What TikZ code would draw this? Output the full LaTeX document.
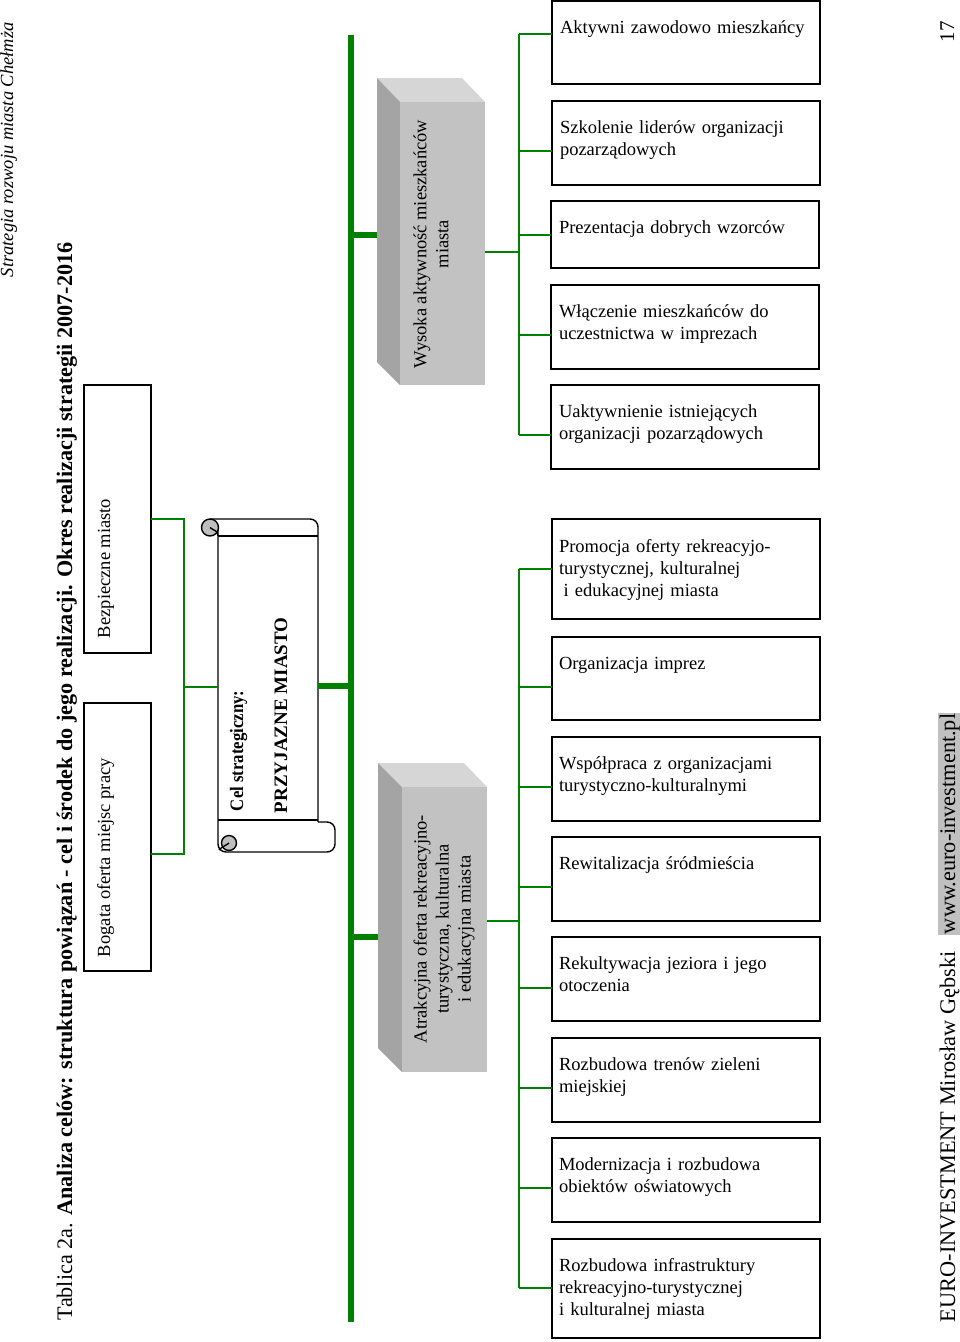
\documentclass[tikz,border=0pt]{standalone}
\usepackage{fontspec}
\setmainfont{Liberation Serif}
\usetikzlibrary{calc}
\definecolor{ln}{RGB}{0,128,0}
\definecolor{grF}{RGB}{194,194,194}
\definecolor{grT}{RGB}{214,214,214}
\definecolor{grS}{RGB}{164,164,164}
\definecolor{grW}{RGB}{192,192,192}
\definecolor{curl}{RGB}{190,190,190}
\newcommand{\bodyfont}{\fontsize{18.5}{22}\selectfont}
\begin{document}
\begin{tikzpicture}[x=1pt,y=-1pt,
  every node/.style={inner sep=0pt, outer sep=0pt},
  rbox/.style={draw=black, line width=1.4pt, anchor=north west, minimum width=268pt, minimum height=#1},
  lbox/.style={draw=black, line width=1.4pt, anchor=north west, minimum width=67pt, minimum height=268pt},
  face/.style={fill=grF, anchor=north west, minimum width=85pt, minimum height=#1},
  btxt/.style={font=\bodyfont, anchor=base west, text width=258pt, align=left},
  rtxt/.style={font=\bodyfont, rotate=90, anchor=base west},
  thinln/.style={draw=ln, line width=2pt},
  thickln/.style={draw=ln, line width=5.5pt},
  sc/.style={draw=black, line width=1.4pt},
]
\useasboundingbox (0,0) rectangle (960,1342);

% ---------- header / footer ----------
\node[rotate=90, anchor=base west, font=\fontsize{18.5}{22}\selectfont\itshape] (hdr) at (13,277) {Strategia rozwoju miasta Chełmża};
\node[rotate=90, anchor=base west, font=\fontsize{22.2}{26}\selectfont] (title) at (72,1320) {Tablica 2a. \textbf{Analiza celów: struktura powiązań - cel i środek do jego realizacji. Okres realizacji strategii 2007-2016}};
\node[rotate=90, anchor=base west, font=\fontsize{21}{25}\selectfont] (pg) at (954,42) {17};
\node[rotate=90, anchor=base west, font=\fontsize{22.3}{26}\selectfont] (ft1) at (955,1322) {EURO-INVESTMENT Mirosław Gębski};
\node[rotate=90, anchor=base west, font=\fontsize{22.3}{26}\selectfont, fill=grW, inner xsep=1pt, inner ysep=2pt] (ft2) at (955,935) {www.euro-investment.pl};

% ---------- left boxes ----------
\node[lbox] (bez) at (84,385) {};
\node[rtxt] (tbez) at (110,638) {Bezpieczne miasto};
\node[lbox] (bog) at (84,703) {};
\node[rtxt] (tbog) at (110,957) {Bogata oferta miejsc pracy};

% ---------- scroll ----------
\node[anchor=north west, minimum width=100pt, minimum height=334pt] (cel) at (218,519) {};
\draw[sc, rounded corners=8pt] (210,519) -- (318,519) -- (318,822);
\draw[sc] (218,536) -- (318,536);
\draw[sc] (218,820) -- (318,820);
\draw[sc, rounded corners=8pt] (318,822) -- (335,822) -- (335,852) -- (218,852) -- (218,528);
\draw[sc, fill=curl] (210,527.5) circle (8.5);
\draw[sc] (210,527.5) .. controls (214,531) and (218,530) .. (218,536);
\draw[sc, fill=curl] (229,843) circle (7.5);
\draw[sc] (229,843) .. controls (225,846) and (220,848) .. (219,850);
\node[rotate=90, anchor=base west, font=\fontsize{19}{23}\selectfont\bfseries] (celA) at (243,811) {\scalebox{0.88}[1]{Cel strategiczny:}};
\node[rotate=90, anchor=base west, font=\fontsize{19}{23}\selectfont\bfseries] (celB) at (287,813) {PRZYJAZNE MIASTO};

% ---------- 3D boxes ----------
\fill[grT] (377,78) -- (462,78) -- (485,102) -- (400,102) -- cycle;
\fill[grS] (377,78) -- (400,102) -- (400,385) -- (377,362) -- cycle;
\node[face=283pt] (wys) at (400,102) {};
\node[rotate=90, align=center, font=\bodyfont] (twys) at (431,244) {Wysoka aktywność mieszkańców\\miasta};
\coordinate (wysL) at (377,235);

\fill[grT] (378,763) -- (464,763) -- (487,787) -- (402,787) -- cycle;
\fill[grS] (378,763) -- (402,787) -- (402,1072) -- (378,1048) -- cycle;
\node[face=285pt] (atr) at (402,787) {};
\node[rotate=90, align=center, font=\bodyfont] (tatr) at (444,929) {Atrakcyjna oferta rekreacyjno-\\turystyczna, kulturalna\\i edukacyjna miasta};
\coordinate (atrL) at (378,937);

% ---------- right boxes, group 1 ----------
\node[rbox=83pt] (b1) at (552,1) {};
\node[rbox=84pt] (b2) at (552,101) {};
\node[rbox=67pt] (b3) at (551,201) {};
\node[rbox=84pt] (b4) at (551,285) {};
\node[rbox=84pt] (b5) at (551,385) {};
\node[btxt] at ($(b1.north west)+(8,32)$) {Aktywni zawodowo mieszkańcy};
\node[btxt] at ($(b2.north west)+(8,32)$) {Szkolenie liderów organizacji\\pozarządowych};
\node[btxt] at ($(b3.north west)+(8,32)$) {Prezentacja dobrych wzorców};
\node[btxt] at ($(b4.north west)+(8,32)$) {Włączenie mieszkańców do\\uczestnictwa w imprezach};
\node[btxt] at ($(b5.north west)+(8,32)$) {Uaktywnienie istniejących\\organizacji pozarządowych};

% ---------- right boxes, group 2 ----------
\node[rbox=100pt] (c1) at (552,519) {};
\node[rbox=83pt] (c2) at (552,637) {};
\node[rbox=84pt] (c3) at (552,737) {};
\node[rbox=84pt] (c4) at (552,837) {};
\node[rbox=84pt] (c5) at (552,937) {};
\node[rbox=84pt] (c6) at (552,1038) {};
\node[rbox=84pt] (c7) at (552,1138) {};
\node[rbox=99pt] (c8) at (552,1239) {};
\node[btxt] at ($(c1.north west)+(7,33)$) {Promocja oferty rekreacyjo-\\turystycznej, kulturalnej\\\hspace*{4.6pt}i edukacyjnej miasta};
\node[btxt] at ($(c2.north west)+(7,32)$) {Organizacja imprez};
\node[btxt] at ($(c3.north west)+(7,32)$) {Współpraca z organizacjami\\turystyczno-kulturalnymi};
\node[btxt] at ($(c4.north west)+(7,32)$) {Rewitalizacja śródmieścia};
\node[btxt] at ($(c5.north west)+(7,32)$) {Rekultywacja jeziora i jego\\otoczenia};
\node[btxt] at ($(c6.north west)+(7,32)$) {Rozbudowa trenów zieleni\\miejskiej};
\node[btxt] at ($(c7.north west)+(7,32)$) {Modernizacja i rozbudowa\\obiektów oświatowych};
\node[btxt] at ($(c8.north west)+(7,32)$) {Rozbudowa infrastruktury\\rekreacyjno-turystycznej\\i kulturalnej miasta};

% ---------- connectors ----------
% main spine
\coordinate (mTop) at (351,35);
\coordinate (mBot) at (351,1322);
\draw[thickln] (mTop) -- (mBot);
\draw[thickln] (wysL -| mTop) -- (wysL);
\draw[thickln] (cel.east) -- (cel.east -| mTop);
\draw[thickln] (atrL -| mTop) -- (atrL);

% left goals
\coordinate (jl) at (184,687);
\coordinate (jb) at (184,854);
\draw[thinln] (bez.east) -| (jb) -- (jb -| bog.east);
\draw[thinln] (jl) -- (jl -| cel.west);

% group 1
\coordinate (wysR) at (485,252);
\coordinate (s1t) at (519,34);
\coordinate (s1b) at (519,435);
\draw[thinln] (wysR) -- (wysR -| s1t);
\draw[thinln] (s1t) -- (s1b);
\foreach \yy/\bb in {34/b1,151/b2,235/b3,335/b4,435/b5}
  \draw[thinln] (519,\yy) -- (\bb.west |- 519,\yy);

% group 2
\coordinate (atrR) at (487,921);
\coordinate (s2t) at (519,569);
\coordinate (s2b) at (519,1288);
\draw[thinln] (atrR) -- (atrR -| s2t);
\draw[thinln] (s2t) -- (s2b);
\foreach \yy/\bb in {569/c1,687/c2,787/c3,887/c4,988/c5,1088/c6,1188/c7,1288/c8}
  \draw[thinln] (519,\yy) -- (\bb.west |- 519,\yy);
\end{tikzpicture}
\end{document}
